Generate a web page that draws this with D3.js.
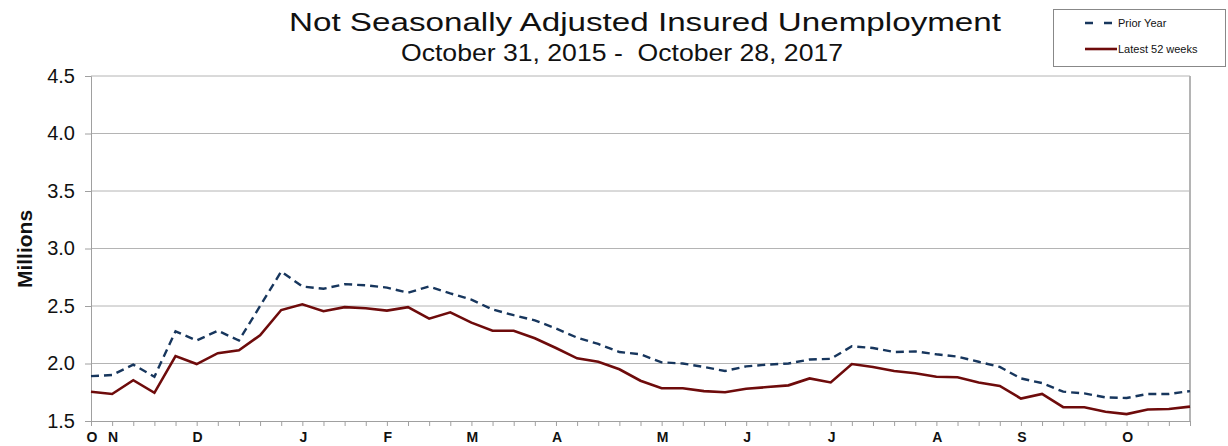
<!DOCTYPE html>
<html>
<head>
<meta charset="utf-8">
<script src="https://cdn.jsdelivr.net/npm/d3@7"></script>
<style>
  body { margin: 0; background: #fff; }
  svg { font-family: "Liberation Sans", Arial, sans-serif; }
</style>
</head>
<body>
<div id="chart"></div>
<script>
// weekly data, millions (week ending Oct 29 .. Oct 28)
const monthLabels = ["O", "N", "D", "J", "F", "M", "A", "M", "J", "J", "A", "S", "O"];
const monthIndex = [0, 1, 5, 10, 14, 18, 22, 27, 31, 35, 40, 44, 49];
const yTicks = [1.5, 2.0, 2.5, 3.0, 3.5, 4.0, 4.5];

const priorYear = [
  1.89, 1.90, 1.99, 1.885, 2.28, 2.20, 2.285, 2.20, 2.50, 2.80,
  2.67, 2.65, 2.69, 2.68, 2.66, 2.615, 2.67, 2.61, 2.555, 2.47,
  2.42, 2.375, 2.305, 2.225, 2.17, 2.10, 2.08, 2.01, 2.00, 1.97,
  1.935, 1.975, 1.99, 2.00, 2.035, 2.04, 2.15, 2.135, 2.10, 2.105,
  2.08, 2.06, 2.015, 1.97, 1.87, 1.83, 1.755, 1.74, 1.705, 1.70,
  1.735, 1.735, 1.76
];
const latest52 = [
  1.755, 1.735, 1.855, 1.745, 2.065, 1.995, 2.09, 2.115, 2.245, 2.465,
  2.515, 2.455, 2.49, 2.48, 2.46, 2.49, 2.39, 2.445, 2.355, 2.285,
  2.285, 2.22, 2.135, 2.045, 2.015, 1.95, 1.85, 1.785, 1.785, 1.76,
  1.75, 1.78, 1.795, 1.81, 1.87, 1.835, 1.995, 1.97, 1.935, 1.915,
  1.885, 1.88, 1.835, 1.805, 1.695, 1.735, 1.62, 1.62, 1.58, 1.56,
  1.60, 1.605, 1.625
];

const width = 1228, height = 446;
const margin = { left: 91, right: 38, top: 76, bottom: 25 };

const svg = d3.select("#chart").append("svg")
  .attr("width", width).attr("height", height);

const x = d3.scaleLinear().domain([0, latest52.length - 1]).range([margin.left, width - margin.right]);
const y = d3.scaleLinear().domain([1.5, 4.5]).range([height - margin.bottom, margin.top]);

// gridlines
svg.append("g").selectAll("line").data(yTicks.slice(1)).join("line")
  .attr("x1", margin.left).attr("x2", width - margin.right)
  .attr("y1", d => y(d)).attr("y2", d => y(d))
  .attr("stroke", "#b4b4b4").attr("stroke-width", 1);

// right border
svg.append("line")
  .attr("x1", width - margin.right).attr("x2", width - margin.right)
  .attr("y1", y(4.5)).attr("y2", y(1.5))
  .attr("stroke", "#b4b4b4").attr("stroke-width", 2);

// y axis
const yAxis = svg.append("g")
  .attr("transform", `translate(${margin.left},0)`)
  .call(d3.axisLeft(y).tickValues(yTicks).tickFormat(d3.format(".1f")).tickSize(6).tickPadding(10));
yAxis.select(".domain").attr("stroke", "#a0a0a0");
yAxis.selectAll(".tick line").attr("stroke", "#a0a0a0");
yAxis.selectAll("text").attr("font-size", 20).attr("fill", "#111").attr("font-family", "Liberation Sans, Arial, sans-serif");

// x axis
const xAxis = svg.append("g")
  .attr("transform", `translate(0,${y(1.5)})`)
  .call(d3.axisBottom(x).tickValues(d3.range(latest52.length)).tickFormat("").tickSize(5));
xAxis.select(".domain").attr("stroke", "#a0a0a0");
xAxis.selectAll(".tick line").attr("stroke", "#a0a0a0");

svg.append("g").selectAll("text").data(monthIndex).join("text")
  .attr("x", d => x(d) + 1).attr("y", 442)
  .attr("text-anchor", "middle")
  .attr("font-size", 14).attr("font-weight", "bold").attr("fill", "#111")
  .text((d, i) => monthLabels[i]);

// y label
svg.append("text")
  .attr("transform", "translate(32,249) rotate(-90)")
  .attr("text-anchor", "middle")
  .attr("font-size", 21).attr("font-weight", "bold").attr("fill", "#111")
  .text("Millions");

const line = d3.line().x((d, i) => x(i)).y(d => y(d));

svg.append("path").datum(priorYear)
  .attr("d", line).attr("fill", "none")
  .attr("stroke", "#17365d").attr("stroke-width", 2.4)
  .attr("stroke-dasharray", "8,5");

svg.append("path").datum(latest52)
  .attr("d", line).attr("fill", "none")
  .attr("stroke", "#6e0b0b").attr("stroke-width", 2.6);

// title (stretched like the original)
svg.append("text")
  .attr("x", 289).attr("y", 31)
  .attr("font-size", 26).attr("fill", "#111")
  .attr("textLength", 712).attr("lengthAdjust", "spacingAndGlyphs")
  .text("Not Seasonally Adjusted Insured Unemployment");
svg.append("text")
  .attr("x", 401).attr("y", 61)
  .attr("font-size", 24).attr("fill", "#111")
  .attr("textLength", 442).attr("lengthAdjust", "spacingAndGlyphs")
  .attr("xml:space", "preserve").style("white-space", "pre")
  .text("October 31, 2015 -  October 28, 2017");

// legend
const lg = svg.append("g");
lg.append("rect")
  .attr("x", 1053.5).attr("y", 9.5).attr("width", 172).attr("height", 57)
  .attr("fill", "#fff").attr("stroke", "#888").attr("stroke-width", 1);
lg.append("line").attr("x1", 1085).attr("x2", 1113).attr("y1", 23).attr("y2", 23)
  .attr("stroke", "#17365d").attr("stroke-width", 2.4).attr("stroke-dasharray", "8,11");
lg.append("line").attr("x1", 1085).attr("x2", 1117).attr("y1", 49).attr("y2", 49)
  .attr("stroke", "#6e0b0b").attr("stroke-width", 2.6);
lg.append("text").attr("x", 1118).attr("y", 27).attr("font-size", 11).attr("fill", "#111").text("Prior Year");
lg.append("text").attr("x", 1118).attr("y", 53).attr("font-size", 11).attr("fill", "#111").text("Latest 52 weeks");
</script>
</body>
</html>
